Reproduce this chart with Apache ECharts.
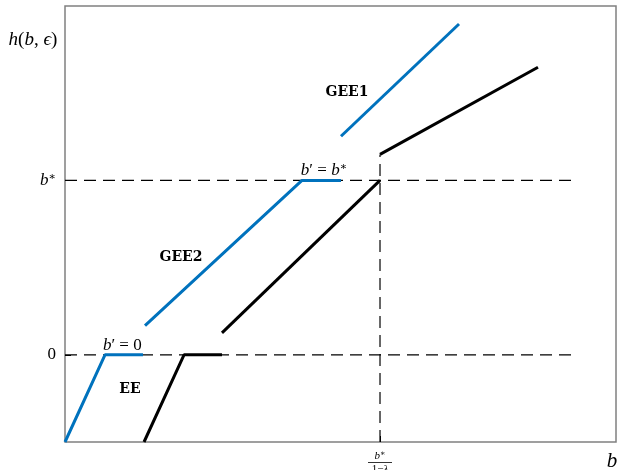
<!DOCTYPE html>
<html>
<head>
<meta charset="utf-8">
<script src="https://cdn.jsdelivr.net/npm/echarts@6/dist/echarts.min.js"></script>
<style>
  html, body { margin: 0; padding: 0; background: #fff; }
  #chart { width: 617px; height: 470px; }
</style>
</head>
<body>
<div id="chart"></div>
<script>
// Piecewise-linear policy segments h(b, eps), b* normalised to 1
const bStar = 1;
const bThreshold = 5.717;            // b* / (1 - lambda)

const eeBlue   = [[0, -0.5], [0.726, 0], [1.415, 0]];
const eeBlack  = [[1.434, -0.5], [2.160, 0], [2.849, 0]];
const gee2Blue = [[1.452, 0.167], [4.301, 1.0], [5.009, 1.0]];
const midBlack = [[2.849, 0.126], [5.717, 1.0]];
const gee1Blue = [[5.009, 1.253], [7.151, 1.897]];
const topBlack = [[5.717, 1.149], [8.584, 1.649]];

const refZero  = [[0, 0], [9.3, 0]];
const refStar  = [[0, bStar], [9.3, bStar]];
const refVert  = [[bThreshold, -0.5], [bThreshold, 1.149]];

const yTicks = [0, bStar];
const xTicks = [bThreshold];

const annotations = [
  { value: [1.04, 0.055], text: '{i|b}{n|′ = 0}' },
  { value: [4.70, 1.055], text: '{i|b}{n|′ = }{i|b}{s|∗}' },
  { value: [1.18, -0.201], text: '{b|EE}' },
  { value: [2.105, 0.557], text: '{b|GEE2}' },
  { value: [5.118, 1.506], text: '{b|GEE1}' }
];

const BLUE = '#0072BD';
const SERIF = '"Liberation Serif", "DejaVu Serif", serif';
const BOLD_SERIF = '"DejaVu Serif", "Liberation Serif", serif';

const chart = echarts.init(document.getElementById('chart'), null, { renderer: 'canvas' });

function seg(data, color, width, dashed) {
  return {
    type: 'line', data: data, symbol: 'none', silent: true, animation: false,
    lineStyle: { color: color, width: width, type: dashed ? [12, 7] : 'solid', cap: 'butt' },
    z: dashed ? 1 : 3
  };
}

const richText = {
  i: { fontFamily: SERIF, fontStyle: 'italic', fontSize: 17, color: '#000' },
  n: { fontFamily: SERIF, fontSize: 17, color: '#000' },
  s: { fontFamily: SERIF, fontSize: 11, color: '#000', verticalAlign: 'top', padding: [0, 0, 7, 0] },
  b: { fontFamily: BOLD_SERIF, fontWeight: 'bold', fontSize: 14, color: '#000' }
};

chart.setOption({
  animation: false,
  grid: { left: 65, right: 1, top: 6, bottom: 28, show: true, borderColor: '#808080', borderWidth: 1.5, backgroundColor: 'transparent' },
  xAxis: {
    type: 'value', min: 0, max: 10,
    axisLine: { show: false, onZero: false },
    splitLine: { show: false },
    axisTick: { show: true, inside: true, length: 6, customValues: xTicks, lineStyle: { color: '#000' } },
    axisLabel: { show: false }
  },
  yAxis: {
    type: 'value', min: -0.5, max: 2,
    axisLine: { show: false, onZero: false },
    splitLine: { show: false },
    axisTick: { show: true, inside: true, length: 6, customValues: yTicks, lineStyle: { color: '#000' } },
    axisLabel: {
      show: true, customValues: yTicks, margin: 9,
      formatter: function (v) { return v === 0 ? '{n|0}' : '{i|b}{s|∗}'; },
      rich: {
        i: { fontFamily: SERIF, fontStyle: 'italic', fontSize: 17, color: '#000' },
        n: { fontFamily: SERIF, fontSize: 17, color: '#000' },
        s: { fontFamily: SERIF, fontSize: 11, color: '#000', verticalAlign: 'top', padding: [0, 0, 7, 0] }
      }
    }
  },
  series: [
    seg(refZero, '#000', 1.2, true),
    seg(refStar, '#000', 1.2, true),
    seg(refVert, '#000', 1.2, true),
    seg(eeBlue, BLUE, 3),
    seg(eeBlack, '#000', 3),
    seg(gee2Blue, BLUE, 3),
    seg(midBlack, '#000', 3),
    seg(gee1Blue, BLUE, 3),
    seg(topBlack, '#000', 3),
    {
      type: 'scatter', symbolSize: 0, silent: true, z: 5,
      itemStyle: { opacity: 1 },
      data: annotations.map(a => ({ value: a.value, label: { formatter: a.text } })),
      label: { show: true, position: 'inside', color: '#000', textBorderWidth: 0, rich: richText }
    }
  ]
});

// Fraction tick label b*/(1 - lambda), axis names
const px = chart.convertToPixel({ xAxisIndex: 0 }, bThreshold);
const yBottom = chart.convertToPixel({ yAxisIndex: 0 }, -0.5);
chart.setOption({
  graphic: [
    { type: 'text', x: px, y: yBottom + 14, style: { text: '{i|b}{s|∗}', rich: {
        i: { fontFamily: SERIF, fontStyle: 'italic', fontSize: 11, color: '#000' },
        s: { fontFamily: SERIF, fontSize: 8, color: '#000', verticalAlign: 'top', padding: [0, 0, 4, 0] } },
      align: 'center', verticalAlign: 'middle' } },
    { type: 'line', shape: { x1: px - 12, y1: yBottom + 20.5, x2: px + 12, y2: yBottom + 20.5 }, style: { stroke: '#000', lineWidth: 0.8 } },
    { type: 'text', x: px, y: yBottom + 27, style: { text: '{n|1−}{i|λ}', rich: {
        i: { fontFamily: SERIF, fontStyle: 'italic', fontSize: 11, color: '#000' },
        n: { fontFamily: SERIF, fontSize: 11, color: '#000' } },
      align: 'center', verticalAlign: 'middle' } },
    { type: 'text', x: 612, y: 461, style: { text: 'b', font: 'italic 21px ' + SERIF, fill: '#000', align: 'center', verticalAlign: 'middle' } },
    { type: 'text', x: 33, y: 40, style: { text: '{i|h}{n|(}{i|b}{n|, }{i|ϵ}{n|)}', rich: {
        i: { fontFamily: SERIF, fontStyle: 'italic', fontSize: 19, color: '#000' },
        n: { fontFamily: SERIF, fontSize: 19, color: '#000' } },
      align: 'center', verticalAlign: 'middle' } }
  ]
});
</script>
</body>
</html>
